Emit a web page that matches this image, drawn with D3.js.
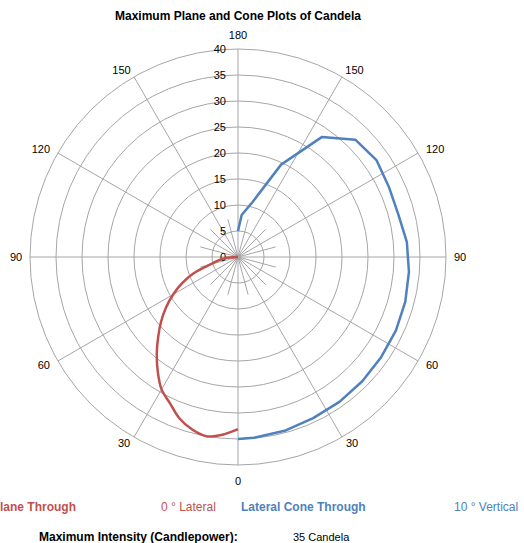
<!DOCTYPE html>
<html>
<head>
<meta charset="utf-8">
<script src="https://cdn.jsdelivr.net/npm/d3@7"></script>
<style>
  body { margin: 0; background: #fff; }
  svg text { font-family: "Liberation Sans", Arial, sans-serif; }
</style>
</head>
<body>
<div id="chart"></div>
<script>
// candela readings, angle in degrees from nadir (0 = straight down)
var planeAngles = [0, 5, 10, 15, 20, 25, 30, 35, 40, 45, 50, 55, 60, 65, 70, 75, 80, 85, 90];
var planeValues = [33.1, 34.3, 35.0, 34.3, 33.0, 31.0, 29.4, 26.9, 24.3, 21.7, 19.3, 16.9, 14.4, 11.8, 9.0, 5.5, 3.8, 2.6, 0];

var coneAngles = [0, 5, 15, 25, 35, 45, 55, 65, 75, 85, 95, 105, 115, 125, 135, 145, 155, 165, 175, 180];
var coneValues = [35.0, 34.9, 34.6, 34.2, 34.0, 33.8, 33.6, 33.5, 33.3, 33.0, 32.6, 31.9, 32.0, 32.5, 31.9, 28.2, 19.6, 11.0, 8.1, 5.0];

var ringTicks = [0, 5, 10, 15, 20, 25, 30, 35, 40];
var angleTicks = [0, 30, 60, 90, 120, 150, 180];

var title = "Maximum Plane and Cone Plots of Candela";
var maxIntensity = 35;

var W = 524, H = 543;
var cx = 238, cy = 257, R = 208;
var red = "#c0504d", blue = "#4f81bd", grid = "#a6a6a6";

var svg = d3.select("#chart").append("svg").attr("width", W).attr("height", H);

var r = d3.scaleLinear().domain([0, 40]).range([0, R]);

var g = svg.append("g").attr("transform", "translate(" + cx + "," + cy + ")");

// rings
g.selectAll("circle.ring")
  .data(ringTicks.filter(function (d) { return d > 0; }))
  .enter().append("circle")
  .attr("class", "ring")
  .attr("r", function (d) { return r(d); })
  .attr("fill", "none")
  .attr("stroke", grid)
  .attr("stroke-width", 1);

// short spokes every 15 deg near the centre
var minor = d3.range(15, 360, 30);
g.selectAll("line.minor")
  .data(minor)
  .enter().append("line")
  .attr("x2", function (d) { return r(7.5) * Math.sin(d * Math.PI / 180); })
  .attr("y2", function (d) { return r(7.5) * Math.cos(d * Math.PI / 180); })
  .attr("stroke", grid).attr("stroke-width", 1);

// main spokes every 30 deg
g.selectAll("line.spoke")
  .data(d3.range(0, 360, 30))
  .enter().append("line")
  .attr("x2", function (d) { return R * Math.sin(d * Math.PI / 180); })
  .attr("y2", function (d) { return R * Math.cos(d * Math.PI / 180); })
  .attr("stroke", grid).attr("stroke-width", 1);

// ring labels
g.selectAll("text.rl")
  .data(ringTicks)
  .enter().append("text")
  .attr("x", -12)
  .attr("y", function (d) { return -r(d); })
  .attr("dy", "0.35em")
  .attr("text-anchor", "end")
  .style("font-size", "11px")
  .attr("fill", "#000")
  .text(function (d) { return d; });

// angle labels (right side, mirrored on the left)
var labOff = { 0: [0, 16], 30: [10, 6], 60: [14, 4], 90: [14, 0], 120: [17, -4], 150: [12.5, -7], 180: [0, -14] };
var angleLab = [];
angleTicks.forEach(function (a) {
  angleLab.push({ a: a, side: 1 });
  if (a > 0 && a < 180) angleLab.push({ a: a, side: -1 });
});
g.selectAll("text.al")
  .data(angleLab)
  .enter().append("text")
  .attr("x", function (d) { return d.side * (R * Math.sin(d.a * Math.PI / 180) + labOff[d.a][0]); })
  .attr("y", function (d) { return R * Math.cos(d.a * Math.PI / 180) + labOff[d.a][1]; })
  .attr("dy", "0.35em")
  .attr("text-anchor", "middle")
  .style("font-size", "11px")
  .text(function (d) { return d.a; });

// curves
var planeLine = d3.lineRadial()
  .angle(function (d) { return Math.PI + d[0] * Math.PI / 180; })
  .radius(function (d) { return r(d[1]); })
  .curve(d3.curveCatmullRom);

var coneLine = d3.lineRadial()
  .angle(function (d) { return Math.PI - d[0] * Math.PI / 180; })
  .radius(function (d) { return r(d[1]); });

g.append("path")
  .datum(planeAngles.map(function (a, i) { return [a, planeValues[i]]; }))
  .attr("d", planeLine)
  .attr("fill", "none").attr("stroke", red).attr("stroke-width", 2.5);

g.append("path")
  .datum(coneAngles.map(function (a, i) { return [a, coneValues[i]]; }))
  .attr("d", coneLine)
  .attr("fill", "none").attr("stroke", blue).attr("stroke-width", 2.5)
  .attr("stroke-linejoin", "round");

// title
svg.append("text")
  .attr("x", 238).attr("y", 20)
  .attr("text-anchor", "middle")
  .style("font-size", "12px").style("font-weight", "bold")
  .text(title);

// legend row
var legend = [
  { t: "Plane Through", x: -8, c: red, b: true },
  { t: "0 ° Lateral", x: 161, c: red, b: false },
  { t: "Lateral Cone Through", x: 241, c: blue, b: true },
  { t: "10 ° Vertical", x: 454, c: blue, b: false }
];
svg.selectAll("text.leg")
  .data(legend)
  .enter().append("text")
  .attr("x", function (d) { return d.x; })
  .attr("y", 511)
  .attr("fill", function (d) { return d.c; })
  .style("font-size", "12px")
  .style("font-weight", function (d) { return d.b ? "bold" : "normal"; })
  .text(function (d) { return d.t; });

svg.append("text")
  .attr("x", 39).attr("y", 541)
  .style("font-size", "12px").style("font-weight", "bold")
  .text("Maximum Intensity (Candlepower):");

svg.append("text")
  .attr("x", 293).attr("y", 541)
  .style("font-size", "11px")
  .text(maxIntensity + " Candela");
</script>
</body>
</html>
